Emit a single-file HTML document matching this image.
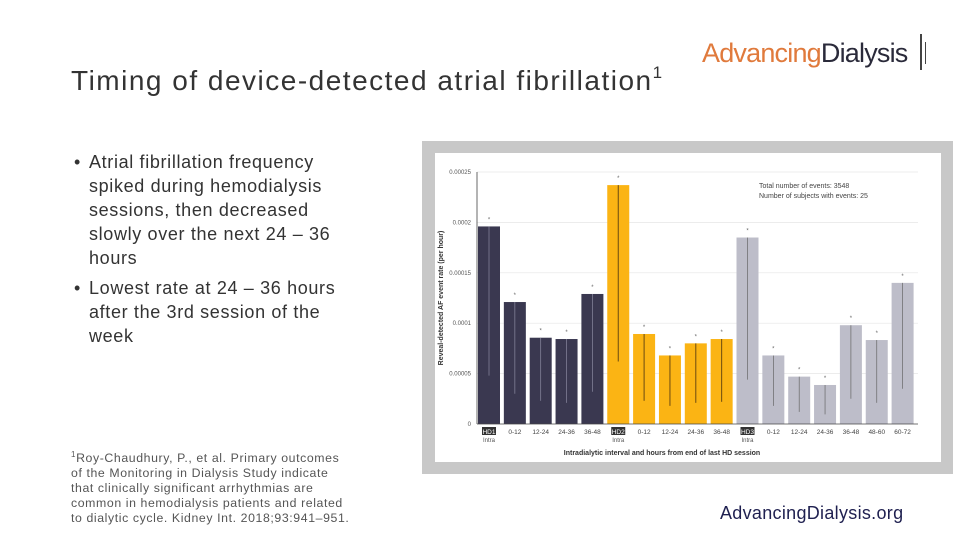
<!DOCTYPE html>
<html><head><meta charset="utf-8"><style>
body{margin:0;width:960px;height:540px;background:#fff;font-family:"Liberation Sans",sans-serif;position:relative;overflow:hidden}
.abs{position:absolute;margin:0}
#title{left:71px;top:63px;font-size:28px;letter-spacing:1.5px;font-weight:normal;color:#333;white-space:nowrap}
#title sup{font-size:17px;vertical-align:12px}
ul{position:absolute;left:89px;top:150px;width:320px;padding:0;margin:0;list-style:none;font-size:18px;letter-spacing:0.65px;line-height:24px;color:#333;white-space:nowrap}
li{position:relative;margin-bottom:6px}
li span.b{position:absolute;left:-15px;top:0}
#foot{left:71px;top:447px;font-size:12.3px;letter-spacing:0.6px;line-height:15px;color:#555;white-space:nowrap}
#logo{left:702px;top:34px;font-size:27px;letter-spacing:-0.8px;white-space:nowrap}
#url{left:720px;top:503px;font-size:18px;letter-spacing:0.3px;color:#1f2050}
</style></head><body>
<h1 class="abs" id="title">Timing of device-detected atrial fibrillation<sup>1</sup></h1>
<div class="abs" id="logo"><span style="color:#e07a3c">Advancing</span><span style="color:#2a2a3a">Dialysis</span><span style="display:inline-block;width:2px;height:36px;background:#444;margin-left:12px;vertical-align:-8px"></span><span style="display:inline-block;width:1px;height:22px;background:#444;margin-left:3px;vertical-align:-2px"></span></div>
<ul>
<li><span class="b">•</span>Atrial fibrillation frequency<br>spiked during hemodialysis<br>sessions, then decreased<br>slowly over the next 24 – 36<br>hours</li>
<li><span class="b">•</span>Lowest rate at 24 – 36 hours<br>after the 3rd session of the<br>week</li>
</ul>
<p class="abs" id="foot"><sup style="font-size:8px">1</sup>Roy-Chaudhury, P., et al. Primary outcomes<br>of the Monitoring in Dialysis Study indicate<br>that clinically significant arrhythmias are<br>common in hemodialysis patients and related<br>to dialytic cycle. Kidney Int. 2018;93:941–951.</p>
<div class="abs" id="url">AdvancingDialysis.org</div>
<svg class="abs" style="left:0;top:0" width="960" height="540" id="chart">
<rect x="422" y="141" width="531" height="333" fill="#c8c8c8"/>
<rect x="435" y="153" width="506" height="309" fill="#fff"/>
<g id="g"></g>
</svg>
<script>
const categories=["HD1","0-12","12-24","24-36","36-48","HD2","0-12","12-24","24-36","36-48","HD3","0-12","12-24","24-36","36-48","48-60","60-72"];
const rates=[0.000196,0.000121,0.0000856,0.0000843,0.000129,0.000237,0.0000893,0.000068,0.00008,0.0000843,0.000185,0.000068,0.000047,0.0000387,0.000098,0.0000833,0.00014];
const lowerCI=[0.000048,0.00003,0.000023,0.000021,0.000032,0.000062,0.000023,0.000018,0.000021,0.000022,0.000044,0.000018,0.000012,0.0000096,0.000025,0.000021,0.000035];
const groups=[0,0,0,0,0,1,1,1,1,1,2,2,2,2,2,2,2];
const yTicks=[0,0.00005,0.0001,0.00015,0.0002,0.00025];
const yTickLabels=["0","0.00005","0.0001","0.00015","0.0002","0.00025"];
const NS="http://www.w3.org/2000/svg";
const g=document.getElementById('g');
const x0=478,step=25.85,bw=22,yBase=424,yTop=172,yMax=0.00025;
const y=v=>yBase-(v/yMax)*(yBase-yTop);
const xb=i=>x0+i*step;
const fills=["#3a3850","#fbb414","#bdbdc9"],errc=["#8a8aa0","#6b4a10","#666"];
function el(t,a,txt){const e=document.createElementNS(NS,t);for(const k in a)e.setAttribute(k,a[k]);if(txt!==undefined)e.textContent=txt;g.appendChild(e);return e;}
yTicks.forEach((t,i)=>{
 if(i>0){const l=el('line',{x1:477,x2:918,y1:y(t),y2:y(t),stroke:'#e6e6e6','stroke-width':0.7});
 
 }
 const tx=el('text',{x:471,y:y(t)+2,'font-size':6,'text-anchor':'end',fill:'#555'},yTickLabels[i]);
 
 
});
rates.forEach((v,i)=>{
 const gi=groups[i];
 const r=el('rect',{x:xb(i),y:y(v),width:bw,height:yBase-y(v),fill:fills[gi]});
 
 
 const cx=xb(i)+bw/2;
 const e=el('line',{x1:cx,x2:cx,y1:y(v),y2:y(lowerCI[i]),stroke:errc[gi],'stroke-width':gi==1?1:0.7});
 
 
 const s=el('text',{x:cx,y:y(v)-5,'font-size':6,'text-anchor':'middle',fill:'#666'},'*');
 
 
 if(gi!==groups[i-1]){
  const b=el('rect',{x:cx-7,y:427,width:14,height:8,fill:'#333'});
  
  
  const t=el('text',{x:cx,y:434,'font-size':6.5,'text-anchor':'middle',fill:'#fff'},categories[i]);
  
  
  const t2=el('text',{x:cx,y:442,'font-size':6,'text-anchor':'middle',fill:'#555'},'Intra');
  
  
 }else{
  const t=el('text',{x:cx,y:434,'font-size':6.5,'text-anchor':'middle',fill:'#444'},categories[i]);
  
  
 }
});
const ax=el('line',{x1:477,x2:918,y1:yBase,y2:yBase,stroke:'#444','stroke-width':0.8});


const ay=el('line',{x1:477,x2:477,y1:yTop,y2:yBase,stroke:'#444','stroke-width':0.8});


const xt=el('text',{x:662,y:455,'font-size':7,'text-anchor':'middle',fill:'#333','font-weight':'bold'},'Intradialytic interval and hours from end of last HD session');


const yt=el('text',{x:0,y:0,'font-size':7,'text-anchor':'middle',fill:'#333','font-weight':'bold',transform:'translate(443,298) rotate(-90)'},'Reveal-detected AF event rate (per hour)');


const n1=el('text',{x:759,y:188,'font-size':7,fill:'#444'},'Total number of events: 3548');


const n2=el('text',{x:759,y:198,'font-size':7,fill:'#444'},'Number of subjects with events: 25');


</script>
</body></html>
